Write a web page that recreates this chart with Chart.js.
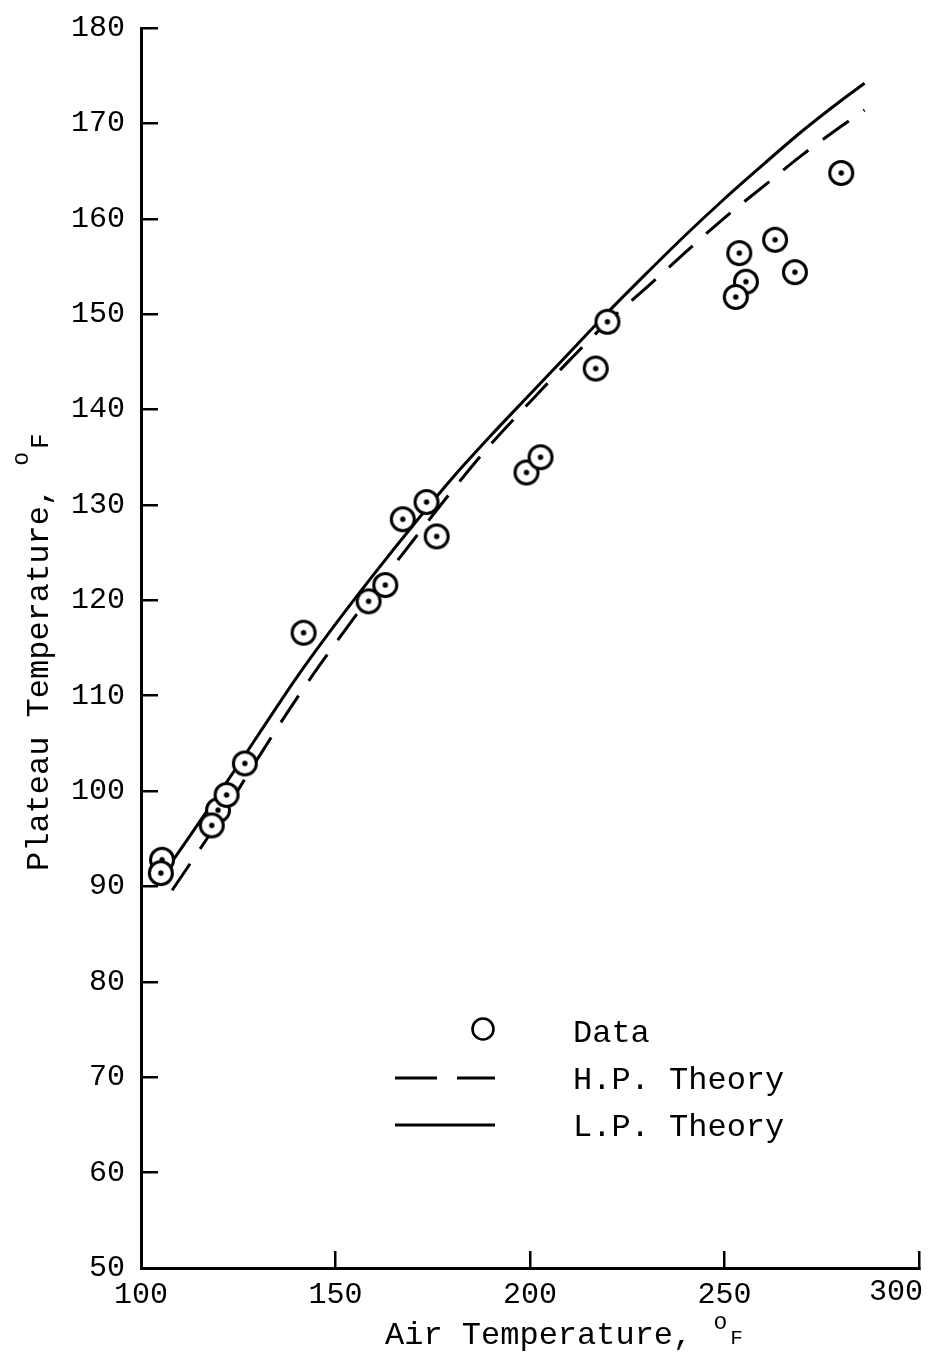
<!DOCTYPE html>
<html>
<head>
<meta charset="utf-8">
<title>Plateau Temperature vs Air Temperature</title>
<script src="https://cdn.jsdelivr.net/npm/chart.js@4/dist/chart.umd.min.js"></script>
<style>
  html, body { margin: 0; padding: 0; background: #fff; }
  canvas { display: block; }
</style>
</head>
<body>
<canvas id="plateauChart" width="928" height="1358"></canvas>
<script>
// measured points (air temperature, plateau temperature), deg F
const airTemp     = [105.4, 105.1, 119.8, 118.2, 122.0, 126.7, 141.8, 158.5, 162.8, 167.3, 173.4, 176.0,
                     199.1, 202.7, 216.9, 219.9, 253.8, 263.0, 255.5, 252.9, 268.1, 280.0];
const plateauTemp = [92.8, 91.4, 98.0, 96.4, 99.6, 102.9, 116.6, 119.9, 121.6, 128.5, 130.3, 126.7,
                     133.4, 135.0, 144.3, 149.2, 156.4, 157.8, 153.4, 151.8, 154.4, 164.8];

// theory curves
const theoryAir = [108, 120, 130, 140, 150, 160, 170, 180, 190, 200, 210, 220, 230, 240, 250, 260, 270, 280, 286];
const hpTheory  = [89.6, 96.9, 103.4, 109.7, 115.5, 121.0, 126.3, 131.5, 136.4, 140.8, 145.1, 149.2,
                   152.8, 156.5, 160.1, 163.4, 166.7, 169.7, 171.4];
const lpTheory  = [92.6, 99.7, 105.8, 111.9, 117.5, 122.8, 127.9, 132.8, 137.3, 141.6, 145.9, 150.2,
                   154.3, 158.3, 162.1, 165.7, 169.2, 172.4, 174.2];

const xTicks = [100, 150, 200, 250, 300];
const yTicks = [50, 60, 70, 80, 90, 100, 110, 120, 130, 140, 150, 160, 170, 180];

const FONT = "'Liberation Mono', 'DejaVu Sans Mono', monospace";
const TICK_FONT = { family: FONT, size: 30 };
const INK = '#000';

// open circle with a centre dot, white filled so it hides what lies under it
function ringMark(r, dot, lw) {
  const c = document.createElement('canvas');
  const s = Math.ceil(2 * r + lw + 4);
  c.width = c.height = s;
  const g = c.getContext('2d');
  g.lineWidth = lw;
  g.strokeStyle = INK;
  g.fillStyle = '#fff';
  g.beginPath();
  g.arc(s / 2, s / 2, r, 0, Math.PI * 2);
  g.fill();
  g.stroke();
  if (dot) {
    g.fillStyle = INK;
    g.beginPath();
    g.arc(s / 2, s / 2, dot, 0, Math.PI * 2);
    g.fill();
  }
  return c;
}

const pointMark = ringMark(11.5, 2.7, 3);
const legendMark = ringMark(10.5, 0, 2.6);
const DASH = [32, 18];

function pairs(xs, ys) {
  return xs.map((x, i) => ({ x, y: ys[i] }));
}

// "text, °F" with a raised o and a small F
function degreeTitle(ctx, text, x, y, raise, fSize) {
  ctx.font = `32px ${FONT}`;
  ctx.fillText(text, x, y);
  let w = ctx.measureText(text + ' ').width;
  ctx.font = `23px ${FONT}`;
  ctx.fillText('o', x + w + 2, y - raise);
  w += ctx.measureText('o').width;
  ctx.font = `${fSize}px ${FONT}`;
  ctx.fillText('F', x + w + 5, y);
}

const titlesAndKey = {
  id: 'titlesAndKey',
  afterDraw(chart) {
    const ctx = chart.ctx;
    const xs = chart.scales.x;
    ctx.save();
    ctx.fillStyle = INK;

    // last x label sits flush with its tick at the right edge
    const last = xTicks[xTicks.length - 1];
    ctx.font = `${TICK_FONT.size}px ${FONT}`;
    ctx.textAlign = 'right';
    ctx.textBaseline = 'middle';
    ctx.fillText(String(last), xs.getPixelForValue(last) + 4, 1292);

    ctx.textAlign = 'left';
    ctx.textBaseline = 'alphabetic';
    degreeTitle(ctx, 'Air Temperature,', 385, 1344, 15, 21);

    ctx.save();
    ctx.translate(48, 871);
    ctx.rotate(-Math.PI / 2);
    degreeTitle(ctx, 'Plateau Temperature,', 0, 0, 20, 26);
    ctx.restore();

    // key
    ctx.drawImage(legendMark, 483 - legendMark.width / 2, 1029 - legendMark.height / 2);
    ctx.strokeStyle = INK;
    ctx.lineWidth = 3;
    ctx.setLineDash([42, 20]);
    ctx.beginPath();
    ctx.moveTo(395, 1078);
    ctx.lineTo(495, 1078);
    ctx.stroke();
    ctx.setLineDash([]);
    ctx.beginPath();
    ctx.moveTo(395, 1125);
    ctx.lineTo(495, 1125);
    ctx.stroke();

    ctx.font = `32px ${FONT}`;
    ctx.textBaseline = 'middle';
    ctx.fillText('Data', 573, 1034);
    ctx.fillText('H.P. Theory', 573, 1081);
    ctx.fillText('L.P. Theory', 573, 1128);
    ctx.restore();
  }
};

// no extra room for labels hanging past the plot edges
function fixSize(prop, size) {
  return s => {
    s[prop] = size;
    s.paddingLeft = s.paddingRight = s.paddingTop = s.paddingBottom = 0;
  };
}

function axisOpts(min, max, ticks, extra) {
  return Object.assign({
    type: 'linear',
    min, max,
    afterBuildTicks: s => { s.ticks = ticks.map(v => ({ value: v })); },
    grid: { drawOnChartArea: false, drawTicks: true, tickLength: -17, color: INK, lineWidth: 2.5 },
    border: { display: true, color: INK, width: 3 }
  }, extra);
}

new Chart(document.getElementById('plateauChart'), {
  type: 'scatter',
  data: {
    datasets: [
      {
        label: 'Data',
        data: pairs(airTemp, plateauTemp),
        pointStyle: pointMark,
        pointRadius: 12,
        showLine: false
      },
      {
        label: 'H.P. Theory',
        data: pairs(theoryAir, hpTheory),
        showLine: true,
        borderColor: INK,
        borderWidth: 3,
        borderDash: DASH,
        pointRadius: 0,
        cubicInterpolationMode: 'monotone'
      },
      {
        label: 'L.P. Theory',
        data: pairs(theoryAir, lpTheory),
        showLine: true,
        borderColor: INK,
        borderWidth: 3,
        pointRadius: 0,
        cubicInterpolationMode: 'monotone'
      }
    ]
  },
  options: {
    responsive: false,
    animation: false,
    devicePixelRatio: 1,
    layout: { autoPadding: false, padding: { left: 0, top: 28, right: 9, bottom: 0 } },
    plugins: { legend: { display: false }, tooltip: { enabled: false } },
    scales: {
      x: axisOpts(100, 300, xTicks, {
        position: 'bottom',
        ticks: {
          color: INK, font: TICK_FONT, padding: 26,
          callback: v => (v === xTicks[xTicks.length - 1] ? '' : String(v))
        },
        afterFit: fixSize('height', 90)
      }),
      y: axisOpts(50, 180, yTicks, {
        position: 'left',
        ticks: { color: INK, font: TICK_FONT, padding: 33 },
        afterFit: fixSize('width', 141)
      })
    }
  },
  plugins: [titlesAndKey]
});
</script>
</body>
</html>
